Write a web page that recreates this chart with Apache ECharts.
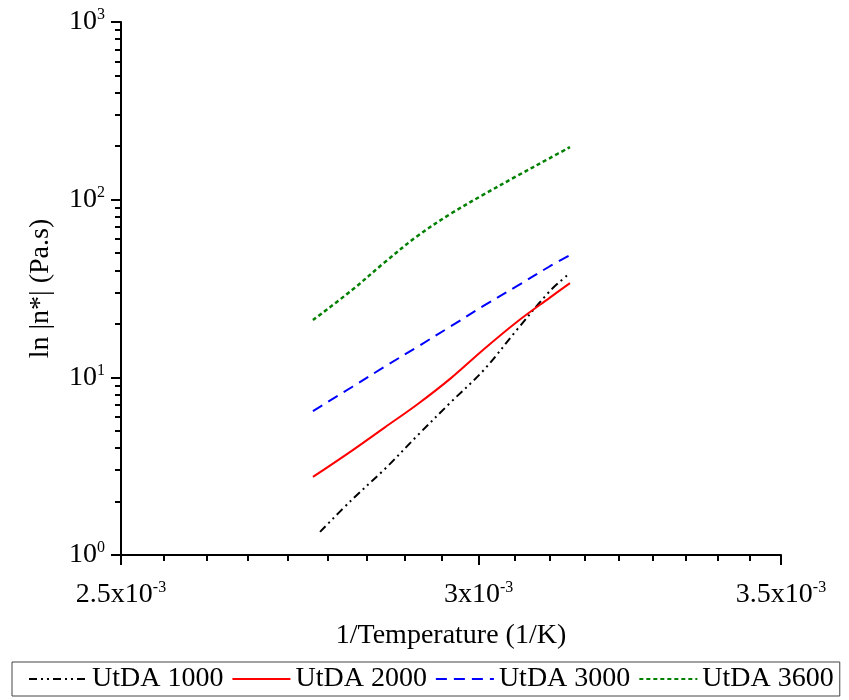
<!DOCTYPE html>
<html>
<head>
<meta charset="utf-8">
<script src="https://cdn.jsdelivr.net/npm/echarts@6/dist/echarts.min.js"></script>
<style>html,body{margin:0;padding:0;background:#fff}#c{width:849px;height:700px}</style>
</head>
<body>
<div id="c"></div>
<script>
// ---- data (x = 1/T in 1/K, y = |n*| in Pa.s) ----
const seriesNames = ['UtDA 1000', 'UtDA 2000', 'UtDA 3000', 'UtDA 3600'];
const xCommon = [0.002757, 0.0028125, 0.002860, 0.0029085, 0.002958, 0.003008, 0.003059, 0.003111, 0.003143];
const xBlack  = [0.002767, 0.0028125, 0.002860, 0.0029085, 0.002958, 0.003008, 0.003059, 0.003111, 0.003143];
const utda1000 = [1.35, 2.05, 3.05, 4.73, 7.26, 11.0, 18.5, 30.6, 38.6];
const utda2000 = [2.75, 3.87, 5.23, 7.08, 9.9, 14.4, 20.5, 28.1, 33.9];
const utda3000 = [6.46, 8.82, 11.5, 14.9, 19.4, 25.3, 32.6, 42.2, 48.8];
const utda3600 = [21.0, 31.0, 44.5, 62.7, 83.5, 107.0, 135.8, 171.5, 197.6];
const xMajorTicks = [0.0025, 0.003, 0.0035];
const xMinorTicks = [];
for (let k = 1; k < 9; k++) { xMinorTicks.push(0.0025 + k * 0.0005 / 9); xMinorTicks.push(0.003 + k * 0.0005 / 9); }
const yMajorTicks = [1, 10, 100, 1000];
const yMinorTicks = [];
[1, 10, 100].forEach(d => { for (let m = 2; m <= 9; m++) yMinorTicks.push(m * d); });

const FONT = 'Liberation Serif';
const FS = 28;
const pairs = (xs, ys) => ys.map((y, i) => [xs[i], y]);

const chart = echarts.init(document.getElementById('c'), null, {renderer: 'canvas'});
const axisLineStyle = {color: '#000', width: 2};
chart.setOption({
  animation: false,
  backgroundColor: '#fff',
  grid: {left: 121, right: 68, top: 22, bottom: 145},
  legend: {
    data: seriesNames,
    top: 662, left: 12,
    itemWidth: 58, itemHeight: 14, itemGap: 8,
    padding: [3, 6, 3, 16],
    borderColor: '#444', borderWidth: 1,
    itemStyle: {opacity: 0},
    textStyle: {fontFamily: FONT, fontSize: FS, color: '#000'}
  },
  xAxis: [{
    type: 'log', min: 0.0025, max: 0.0035,
    name: '1/Temperature (1/K)', nameLocation: 'middle', nameGap: 67,
    nameTextStyle: {fontFamily: FONT, fontSize: FS, color: '#000'},
    axisLine: {show: true, onZero: false, lineStyle: axisLineStyle},
    axisTick: {show: true, inside: false, length: 10, lineStyle: {color: '#000', width: 2}, customValues: xMajorTicks},
    splitLine: {show: false},
    axisLabel: {
      customValues: xMajorTicks, margin: 25, color: '#000',
      formatter: v => '{b|' + (Math.round(v * 1e5) / 100) + 'x10}{s|-3}',
      rich: {b: {fontFamily: FONT, fontSize: FS, color: '#000'},
             s: {fontFamily: FONT, fontSize: 16, color: '#000', padding: [0, 0, 14, 0]}}
    }
  }, {
    type: 'log', min: 0.0025, max: 0.0035, position: 'bottom',
    axisLine: {show: false, onZero: false},
    axisTick: {show: true, inside: false, length: 6, lineStyle: {color: '#000', width: 2}, customValues: xMinorTicks},
    axisLabel: {show: false}, splitLine: {show: false}
  }],
  yAxis: [{
    type: 'log', logBase: 10, min: 1, max: 1000,
    name: 'ln |n*| (Pa.s)', nameLocation: 'middle', nameGap: 66,
    nameTextStyle: {fontFamily: FONT, fontSize: FS, color: '#000'},
    axisLine: {show: true, onZero: false, lineStyle: axisLineStyle},
    axisTick: {show: true, inside: false, length: 10, lineStyle: {color: '#000', width: 2}, customValues: yMajorTicks},
    splitLine: {show: false},
    axisLabel: {
      customValues: yMajorTicks, margin: 16, color: '#000',
      formatter: v => '{b|10}{s|' + Math.round(Math.log10(v)) + '}',
      rich: {b: {fontFamily: FONT, fontSize: FS, color: '#000'},
             s: {fontFamily: FONT, fontSize: 16, color: '#000', padding: [0, 0, 14, 0]}}
    }
  }, {
    type: 'log', logBase: 10, min: 1, max: 1000, position: 'left',
    axisLine: {show: false, onZero: false},
    axisTick: {show: true, inside: false, length: 6, lineStyle: {color: '#000', width: 2}, customValues: yMinorTicks},
    axisLabel: {show: false}, splitLine: {show: false}
  }],
  series: [
    {name: seriesNames[0], type: 'line', data: pairs(xBlack, utda1000), showSymbol: false, symbol: 'none', smooth: 0.35,
     lineStyle: {color: '#000', width: 2, type: [8, 4, 2, 4, 2, 4]}, itemStyle: {color: '#000'}},
    {name: seriesNames[1], type: 'line', data: pairs(xCommon, utda2000), showSymbol: false, symbol: 'none', smooth: 0.35,
     lineStyle: {color: '#ff0000', width: 2, type: 'solid'}, itemStyle: {color: '#ff0000'}},
    {name: seriesNames[2], type: 'line', data: pairs(xCommon, utda3000), showSymbol: false, symbol: 'none', smooth: 0.35,
     lineStyle: {color: '#0000ff', width: 2, type: [11, 7]}, itemStyle: {color: '#0000ff'}},
    {name: seriesNames[3], type: 'line', data: pairs(xCommon, utda3600), showSymbol: false, symbol: 'none', smooth: 0.35,
     lineStyle: {color: '#008000', width: 2.5, type: [4, 3]}, itemStyle: {color: '#008000'}}
  ]
});
</script>
</body>
</html>
